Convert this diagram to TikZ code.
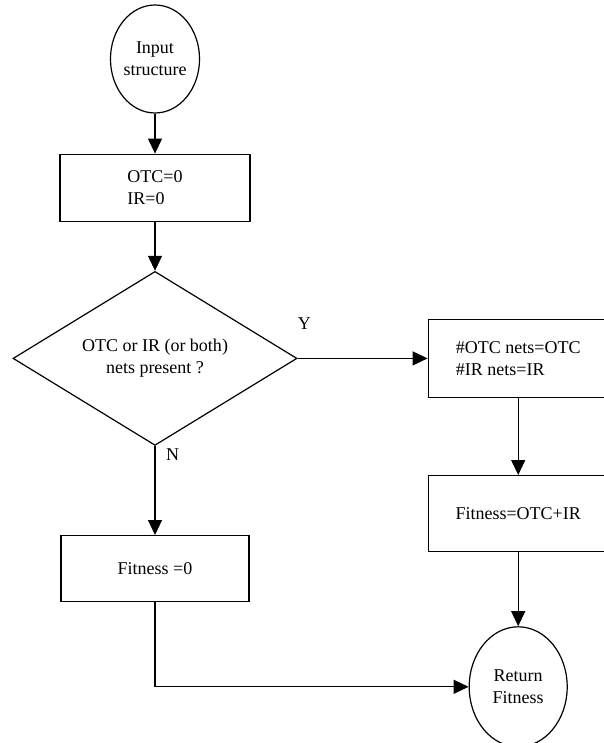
\documentclass[tikz,border=0pt]{standalone}
\usepackage{fontspec}
\setmainfont{Liberation Serif}
\usetikzlibrary{shapes.geometric,arrows.meta,positioning}
\tikzset{
    terminal/.style={
        draw,
        ellipse,
        line width=1.2pt,
        inner sep=0pt,
        align=center,
        font=\fontsize{18}{22}\selectfont
    },
    process/.style={
        draw,
        rectangle,
        line width=1.2pt,
        inner sep=0pt,
        align=left,
        font=\fontsize{18}{22}\selectfont
    },
    decision/.style={
        draw,
        diamond,
        aspect=1.63,
        line width=1.2pt,
        inner sep=0pt,
        align=center,
        minimum width=284pt,
        minimum height=174pt,
        font=\fontsize{18}{22}\selectfont
    },
    arrow/.style={
        -{Triangle[length=15pt,width=14pt]},
        line width=1.2pt
    },
    flag/.style={
        inner sep=0pt,
        font=\fontsize{18}{22}\selectfont
    }
}

\begin{document}
\begin{tikzpicture}
    \useasboundingbox (0pt,0pt) rectangle (603pt,-743pt);

    % Left column
    \node[terminal, minimum width=84pt, minimum height=108pt] (input) at (155pt,-59pt) {Input\\structure};
    \node[process, below=40pt of input, minimum width=190pt, minimum height=67pt] (init) {OTC=0\\IR=0};
    \node[decision, below=49pt of init] (test) {OTC or IR (or both)\\nets present ?};
    \node[process, below=89pt of test, minimum width=188pt, minimum height=66pt] (fitzero) {Fitness =0};

    % Right column
    \node[process, right=130pt of test, minimum width=180pt, minimum height=78pt] (count) {\#OTC nets=OTC\\\#IR nets=IR};
    \node[process, below=77pt of count, minimum width=180pt, minimum height=76pt] (fitsum) {Fitness=OTC+IR};
    \node[terminal, below=74pt of fitsum, minimum width=98pt, minimum height=120pt] (ret) {Return\\Fitness};

    % Branch labels
    \node[flag, anchor=south west] (yes) at ([xshift=0pt,yshift=29pt]test.east) {Y};
    \node[flag, anchor=north west] (no) at ([xshift=11pt,yshift=-3pt]test.south) {N};

    % Arrows
    \draw[arrow] (input) -- (init);
    \draw[arrow] (init) -- (test);
    \draw[arrow] (test.east) -- (count.west);
    \draw[arrow] (test.south) -- (fitzero.north);
    \draw[arrow] (count) -- (fitsum);
    \draw[arrow] (fitsum) -- (ret);
    \draw[arrow] (fitzero.south) |- (ret.west);
\end{tikzpicture}
\end{document}
